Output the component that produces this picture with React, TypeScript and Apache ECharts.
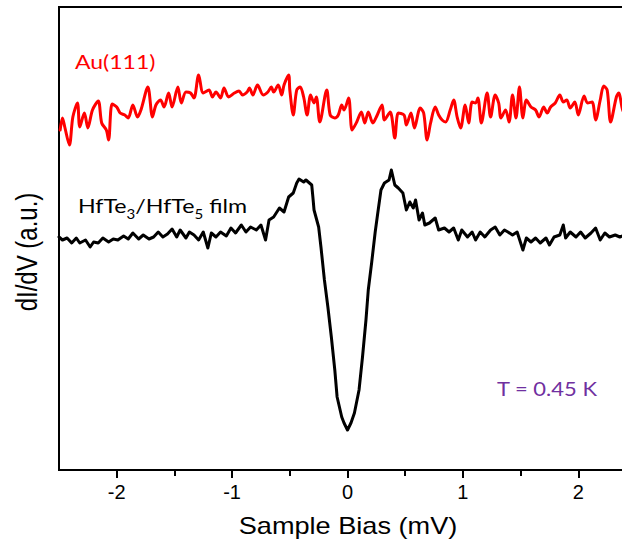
import React, { useEffect, useRef } from "react";
import * as echarts from "echarts";

// Au(111) reference spectrum: [sample bias (mV), dI/dV (a.u.)]
const auCurve: [number, number][] = [
  [-2.49, 3.38], [-2.47, 3.5], [-2.45, 3.41], [-2.41, 3.23], [-2.38, 3.51], [-2.34, 3.65], [-2.32, 3.41],
  [-2.28, 3.55], [-2.25, 3.4], [-2.21, 3.58], [-2.16, 3.67], [-2.13, 3.45], [-2.09, 3.38], [-2.07, 3.28],
  [-2.04, 3.64], [-2.0, 3.61], [-1.97, 3.55], [-1.93, 3.53], [-1.9, 3.5], [-1.86, 3.63], [-1.82, 3.51],
  [-1.79, 3.58], [-1.73, 3.81], [-1.69, 3.51], [-1.66, 3.63], [-1.62, 3.68], [-1.59, 3.61], [-1.55, 3.75],
  [-1.52, 3.61], [-1.47, 3.81], [-1.44, 3.65], [-1.4, 3.76], [-1.36, 3.75], [-1.33, 3.7], [-1.29, 3.93],
  [-1.25, 3.75], [-1.2, 3.78], [-1.17, 3.71], [-1.14, 3.76], [-1.1, 3.7], [-1.07, 3.8], [-1.03, 3.71],
  [-0.98, 3.75], [-0.94, 3.77], [-0.91, 3.73], [-0.87, 3.76], [-0.85, 3.8], [-0.82, 3.73], [-0.78, 3.83],
  [-0.73, 3.73], [-0.69, 3.76], [-0.66, 3.81], [-0.64, 3.76], [-0.6, 3.83], [-0.57, 3.73], [-0.55, 3.83],
  [-0.51, 3.93], [-0.5, 3.78], [-0.47, 3.53], [-0.44, 3.78], [-0.41, 3.81], [-0.38, 3.71], [-0.35, 3.53],
  [-0.32, 3.73], [-0.29, 3.65], [-0.27, 3.71], [-0.24, 3.46], [-0.18, 3.78], [-0.15, 3.53], [-0.11, 3.5],
  [-0.08, 3.53], [-0.05, 3.63], [-0.03, 3.58], [0.01, 3.7], [0.04, 3.38], [0.08, 3.46], [0.12, 3.56],
  [0.15, 3.45], [0.18, 3.56], [0.22, 3.45], [0.25, 3.51], [0.3, 3.63], [0.32, 3.48], [0.37, 3.56],
  [0.41, 3.3], [0.44, 3.55], [0.49, 3.53], [0.51, 3.43], [0.55, 3.55], [0.58, 3.4], [0.63, 3.6],
  [0.66, 3.55], [0.69, 3.28], [0.72, 3.45], [0.76, 3.61], [0.79, 3.53], [0.82, 3.48], [0.85, 3.46],
  [0.89, 3.58], [0.92, 3.68], [0.95, 3.51], [0.98, 3.4], [1.02, 3.63], [1.05, 3.45], [1.08, 3.66],
  [1.11, 3.65], [1.13, 3.7], [1.16, 3.45], [1.21, 3.75], [1.24, 3.51], [1.28, 3.73], [1.31, 3.65],
  [1.33, 3.5], [1.37, 3.58], [1.4, 3.46], [1.43, 3.73], [1.46, 3.5], [1.49, 3.81], [1.52, 3.5],
  [1.55, 3.68], [1.59, 3.61], [1.63, 3.58], [1.66, 3.51], [1.7, 3.61], [1.73, 3.55], [1.76, 3.61],
  [1.8, 3.65], [1.84, 3.73], [1.87, 3.66], [1.9, 3.68], [1.93, 3.6], [1.97, 3.66], [2.0, 3.53],
  [2.05, 3.72], [2.08, 3.65], [2.12, 3.66], [2.15, 3.48], [2.19, 3.68], [2.22, 3.82], [2.25, 3.78],
  [2.28, 3.46], [2.33, 3.71], [2.35, 3.75], [2.39, 3.56], [2.4, 3.61], [2.49, 3.58],
];

// HfTe3/HfTe5 film spectrum: [sample bias (mV), dI/dV (a.u.)]
const filmCurve: [number, number][] = [
  [-2.5, 2.31], [-2.47, 2.28], [-2.43, 2.3], [-2.39, 2.25], [-2.35, 2.3], [-2.32, 2.25], [-2.27, 2.28],
  [-2.23, 2.21], [-2.2, 2.26], [-2.16, 2.25], [-2.12, 2.3], [-2.07, 2.26], [-2.03, 2.29], [-1.99, 2.28],
  [-1.94, 2.32], [-1.9, 2.29], [-1.86, 2.35], [-1.81, 2.29], [-1.77, 2.33], [-1.72, 2.29], [-1.68, 2.31],
  [-1.64, 2.36], [-1.6, 2.31], [-1.56, 2.34], [-1.52, 2.39], [-1.48, 2.31], [-1.45, 2.38], [-1.4, 2.3],
  [-1.37, 2.36], [-1.33, 2.33], [-1.29, 2.28], [-1.25, 2.36], [-1.21, 2.2], [-1.18, 2.35], [-1.14, 2.31],
  [-1.1, 2.36], [-1.05, 2.32], [-1.01, 2.4], [-0.97, 2.35], [-0.92, 2.43], [-0.88, 2.36], [-0.84, 2.41],
  [-0.79, 2.38], [-0.75, 2.43], [-0.71, 2.28], [-0.68, 2.48], [-0.64, 2.51], [-0.59, 2.6], [-0.55, 2.56],
  [-0.51, 2.71], [-0.47, 2.75], [-0.44, 2.85], [-0.42, 2.89], [-0.38, 2.86], [-0.36, 2.88], [-0.31, 2.83],
  [-0.3, 2.71], [-0.29, 2.58], [-0.25, 2.41], [-0.23, 2.21], [-0.2, 1.88], [-0.17, 1.61], [-0.14, 1.31],
  [-0.11, 0.98], [-0.09, 0.71], [-0.05, 0.51], [-0.03, 0.45], [0.0, 0.38], [0.03, 0.45], [0.06, 0.55],
  [0.1, 0.78], [0.13, 1.11], [0.16, 1.48], [0.18, 1.78], [0.21, 2.06], [0.24, 2.36], [0.26, 2.53],
  [0.29, 2.78], [0.32, 2.85], [0.36, 2.88], [0.38, 2.98], [0.41, 2.83], [0.44, 2.8], [0.48, 2.75],
  [0.51, 2.58], [0.54, 2.66], [0.57, 2.6], [0.59, 2.68], [0.62, 2.48], [0.65, 2.55], [0.67, 2.43],
  [0.71, 2.45], [0.76, 2.5], [0.79, 2.38], [0.84, 2.4], [0.88, 2.36], [0.92, 2.4], [0.96, 2.28],
  [0.99, 2.38], [1.04, 2.31], [1.08, 2.36], [1.11, 2.28], [1.15, 2.36], [1.19, 2.31], [1.24, 2.38],
  [1.28, 2.41], [1.32, 2.33], [1.36, 2.38], [1.39, 2.36], [1.43, 2.33], [1.47, 2.36], [1.52, 2.18],
  [1.55, 2.3], [1.59, 2.26], [1.63, 2.3], [1.67, 2.25], [1.72, 2.3], [1.75, 2.23], [1.79, 2.31],
  [1.84, 2.33], [1.87, 2.43], [1.89, 2.3], [1.93, 2.36], [1.98, 2.31], [2.02, 2.36], [2.06, 2.3],
  [2.11, 2.35], [2.15, 2.4], [2.19, 2.28], [2.23, 2.35], [2.27, 2.31], [2.32, 2.33], [2.36, 2.31],
  [2.4, 2.33], [2.49, 2.31],
];

const majorTicks = [-2, -1, 0, 1, 2];
const minorTicks = [-1.5, -0.5, 0.5, 1.5];

const xTitle = "Sample Bias (mV)";
const yTitle = "dI/dV (a.u.)";
const auLabel = "Au(111)";
const tempLabel = "T = 0.45 K";

export default function App() {
  const ref = useRef<HTMLDivElement>(null);

  useEffect(() => {
    if (!ref.current) return;
    const chart = echarts.init(ref.current, undefined, { renderer: "svg" });
    const axisFont = "'Liberation Sans', Arial, sans-serif";
    const noteFont = "Lato, 'Open Sans', sans-serif";
    chart.setOption({
      animation: false,
      backgroundColor: "#ffffff",
      grid: {
        left: 59,
        top: 7,
        width: 577,
        height: 463,
        show: true,
        borderColor: "#000",
        borderWidth: 2,
        containLabel: false,
        outerBoundsMode: "none",
      },
      xAxis: [
        {
          type: "value",
          min: -2.5,
          max: 2.5,
          position: "bottom",
          axisLine: { show: true, onZero: false, lineStyle: { color: "#000", width: 2 } },
          axisTick: {
            show: true,
            customValues: majorTicks,
            length: 8,
            lineStyle: { color: "#000", width: 2 },
          },
          axisLabel: {
            customValues: majorTicks,
            fontSize: 20,
            color: "#000",
            fontFamily: axisFont,
            margin: 12,
            formatter: (v: number) => String(v),
          },
          splitLine: { show: false },
        },
        {
          type: "value",
          min: -2.5,
          max: 2.5,
          position: "bottom",
          axisLine: { show: false, onZero: false },
          axisTick: {
            show: true,
            customValues: minorTicks,
            length: 6,
            lineStyle: { color: "#000", width: 2 },
          },
          axisLabel: { show: false },
          splitLine: { show: false },
        },
      ],
      yAxis: {
        type: "value",
        min: -0.02,
        max: 4.61,
        axisLine: { show: true, onZero: false, lineStyle: { color: "#000", width: 2 } },
        axisTick: { show: false },
        axisLabel: { show: false },
        splitLine: { show: false },
      },
      series: [
        {
          name: "Au(111)",
          type: "line",
          xAxisIndex: 0,
          data: auCurve,
          showSymbol: false,
          smooth: 0.3,
          lineStyle: { color: "#ff0000", width: 3, join: "round", cap: "round" },
          itemStyle: { color: "#ff0000" },
        },
        {
          name: "HfTe3/HfTe5 film",
          type: "line",
          xAxisIndex: 0,
          data: filmCurve,
          showSymbol: false,
          lineStyle: { color: "#000000", width: 3, join: "round", cap: "round" },
          itemStyle: { color: "#000000" },
        },
      ],
      graphic: [
        {
          type: "text",
          x: 348,
          y: 526,
          scaleX: 1.18,
          style: {
            text: xTitle,
            fontSize: 23,
            fontFamily: axisFont,
            fill: "#000",
            align: "center",
            verticalAlign: "middle",
          },
        },
        {
          type: "text",
          x: 27,
          y: 252,
          rotation: Math.PI / 2,
          scaleY: 1.2,
          style: {
            text: yTitle,
            fontSize: 24,
            fontFamily: axisFont,
            fill: "#000",
            align: "center",
            verticalAlign: "middle",
          },
        },
        {
          type: "text",
          x: 75,
          y: 62,
          scaleX: 1.15,
          style: {
            text: auLabel,
            fontSize: 20,
            fontFamily: noteFont,
            fill: "#ff0000",
            align: "left",
            verticalAlign: "middle",
          },
        },
        {
          type: "text",
          x: 78,
          y: 206,
          scaleX: 1.16,
          style: {
            text: "{a|HfTe}{s|3}{a|/HfTe}{s|5}{a| film}",
            fontFamily: noteFont,
            fill: "#000",
            align: "left",
            verticalAlign: "middle",
            rich: {
              a: { fontSize: 20, lineHeight: 28, fontFamily: noteFont, fill: "#000" },
              s: {
                fontSize: 13,
                lineHeight: 16,
                verticalAlign: "bottom",
                fontFamily: noteFont,
                fill: "#000",
              },
            },
          },
        },
        {
          type: "text",
          x: 497,
          y: 388,
          scaleX: 1.1,
          style: {
            text: tempLabel,
            fontSize: 20,
            fontFamily: noteFont,
            fill: "#7030a0",
            align: "left",
            verticalAlign: "middle",
          },
        },
      ],
    });
    return () => chart.dispose();
  }, []);

  return (
    <div
      ref={ref}
      style={{ position: "fixed", left: 0, top: 0, width: 622, height: 547, background: "#fff" }}
    />
  );
}
